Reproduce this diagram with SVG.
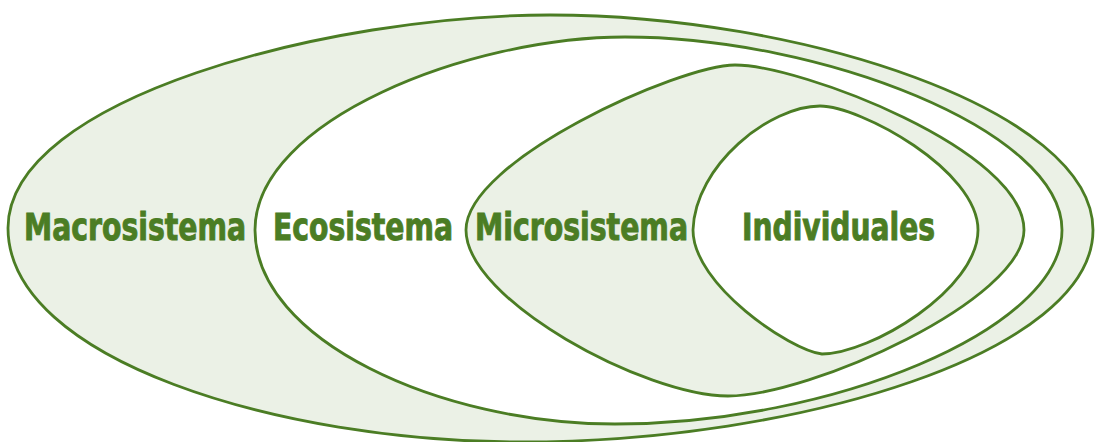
<svg xmlns="http://www.w3.org/2000/svg" width="1095" height="442" viewBox="0 0 1095 442">
<style>
.ring{stroke:#4b7d24;stroke-width:2.8;}
.g{fill:#ebf1e6;}
.w{fill:#ffffff;}
.lbl{font-family:"Liberation Sans Narrow","DejaVu Sans Condensed","Roboto Condensed","Liberation Sans",sans-serif;font-weight:bold;font-size:37px;fill:#4b7d24;stroke:#4b7d24;stroke-width:0.9;}
</style>
<rect width="1095" height="442" fill="#ffffff"/>
<g id="macrosistema">
<path class="ring g" d="M 8 228 C 8 98, 330 15, 550 15 C 800 15, 1093 110, 1093 230 C 1093 352, 800 442, 520 442 C 280 442, 8 360, 8 228 Z"/>
<text class="lbl" x="24" y="240" textLength="222" lengthAdjust="spacingAndGlyphs">Macrosistema</text>
</g>
<g id="ecosistema">
<path class="ring w" d="M 255 230 C 255 120, 470 37, 625 37 C 820 37, 1062 130, 1062 230 C 1062 330, 830 424, 615 424 C 440 424, 255 340, 255 230 Z"/>
<text class="lbl" x="273" y="240" textLength="180" lengthAdjust="spacingAndGlyphs">Ecosistema</text>
</g>
<g id="microsistema">
<path class="ring g" d="M 466 230 C 466 160, 680 65, 735 65 C 800 65, 1024 150, 1024 230 C 1024 300, 810 396, 728 396 C 645 396, 466 300, 466 230 Z"/>
<text class="lbl" x="475" y="240" textLength="213" lengthAdjust="spacingAndGlyphs">Microsistema</text>
</g>
<g id="individuales">
<path class="ring w" d="M 693 230 C 695 165, 770 106, 820 106 C 860 106, 978 170, 978 230 C 978 290, 870 354, 822 354 C 790 350, 693 285, 693 230 Z"/>
<text class="lbl" x="742" y="240" textLength="193" lengthAdjust="spacingAndGlyphs">Individuales</text>
</g>
<g id="connectors"></g>
</svg>
